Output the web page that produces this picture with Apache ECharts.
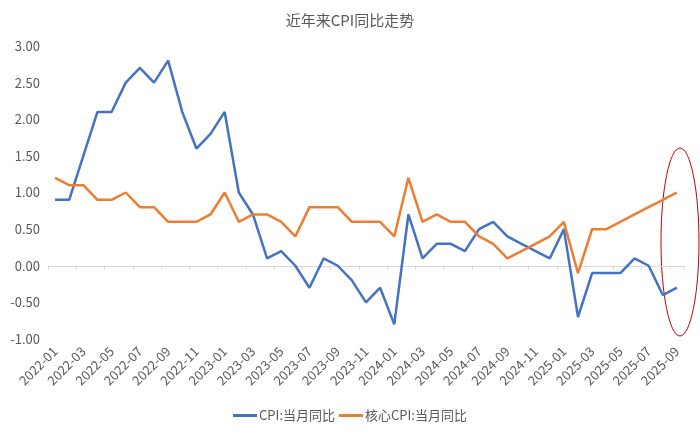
<!DOCTYPE html>
<html>
<head>
<meta charset="utf-8">
<script src="https://cdn.jsdelivr.net/npm/echarts@6/dist/echarts.min.js"></script>
<style>
html,body{margin:0;padding:0;background:#fff;}
#chart{width:700px;height:437px;}
</style>
</head>
<body>
<div id="chart"></div>
<script>
// 月份
var months = [
    '2022-01','2022-02','2022-03','2022-04','2022-05','2022-06','2022-07','2022-08','2022-09','2022-10','2022-11','2022-12',
    '2023-01','2023-02','2023-03','2023-04','2023-05','2023-06','2023-07','2023-08','2023-09','2023-10','2023-11','2023-12',
    '2024-01','2024-02','2024-03','2024-04','2024-05','2024-06','2024-07','2024-08','2024-09','2024-10','2024-11','2024-12',
    '2025-01','2025-02','2025-03','2025-04','2025-05','2025-06','2025-07','2025-08','2025-09'
];
// CPI:当月同比
var cpi = [
    0.9, 0.9, 1.5, 2.1, 2.1, 2.5, 2.7, 2.5, 2.8, 2.1, 1.6, 1.8,
    2.1, 1.0, 0.7, 0.1, 0.2, 0.0, -0.3, 0.1, 0.0, -0.2, -0.5, -0.3,
    -0.8, 0.7, 0.1, 0.3, 0.3, 0.2, 0.5, 0.6, 0.4, 0.3, 0.2, 0.1,
    0.5, -0.7, -0.1, -0.1, -0.1, 0.1, 0.0, -0.4, -0.3
];
// 核心CPI:当月同比
var coreCpi = [
    1.2, 1.1, 1.1, 0.9, 0.9, 1.0, 0.8, 0.8, 0.6, 0.6, 0.6, 0.7,
    1.0, 0.6, 0.7, 0.7, 0.6, 0.4, 0.8, 0.8, 0.8, 0.6, 0.6, 0.6,
    0.4, 1.2, 0.6, 0.7, 0.6, 0.6, 0.4, 0.3, 0.1, 0.2, 0.3, 0.4,
    0.6, -0.1, 0.5, 0.5, 0.6, 0.7, 0.8, 0.9, 1.0
];
var seriesNames = ['CPI:当月同比', '核心CPI:当月同比'];

var font = '"Noto Sans CJK SC", "Noto Sans", sans-serif';
var myChart = echarts.init(document.getElementById('chart'));
var option = {
    animation: false,
    textStyle: {fontFamily: font},
    title: {
        text: '近年来CPI同比走势',
        left: 'center',
        top: 8,
        textStyle: {fontSize: 15, fontWeight: 'normal', color: '#595959', fontFamily: font}
    },
    legend: {
        bottom: 10,
        left: 'center',
        itemWidth: 24,
        itemHeight: 3,
        itemGap: 4,
        icon: 'rect',
        textStyle: {fontSize: 13, color: '#595959', padding: [0, 0, 0, -3]},
        data: seriesNames
    },
    grid: {left: 48, right: 16, top: 46, bottom: 98, containLabel: false},
    xAxis: [{
        // 底部标签
        type: 'category',
        data: months,
        position: 'bottom',
        axisLine: {show: false, onZero: false},
        axisTick: {show: false},
        axisLabel: {
            interval: 1,
            rotate: 45,
            margin: 10,
            fontSize: 13,
            color: '#595959'
        }
    }, {
        // 0 轴线
        type: 'category',
        data: months,
        position: 'bottom',
        axisLine: {show: true, onZero: true, lineStyle: {color: '#d9d9d9', width: 1}},
        axisTick: {show: true, interval: 1, length: 4, lineStyle: {color: '#d9d9d9'}},
        axisLabel: {show: false}
    }],
    yAxis: {
        type: 'value',
        min: -1,
        max: 3,
        interval: 0.5,
        splitLine: {show: false},
        axisLine: {show: false},
        axisTick: {show: false},
        axisLabel: {
            fontSize: 13,
            color: '#595959',
            margin: 8,
            formatter: function(v){ return v.toFixed(2); }
        }
    },
    series: [{
        name: seriesNames[0],
        type: 'line',
        data: cpi,
        showSymbol: false,
        symbol: 'none',
        lineStyle: {width: 2.5, color: '#4472C4'},
        itemStyle: {color: '#4472C4'}
    }, {
        name: seriesNames[1],
        type: 'line',
        data: coreCpi,
        showSymbol: false,
        symbol: 'none',
        lineStyle: {width: 2.5, color: '#ED7D31'},
        itemStyle: {color: '#ED7D31'}
    }],
    graphic: [{
        type: 'ellipse',
        shape: {cx: 680, cy: 242, rx: 19, ry: 94},
        style: {fill: 'none', stroke: '#C00000', lineWidth: 1}
    }]
};
myChart.setOption(option);
</script>
</body>
</html>
